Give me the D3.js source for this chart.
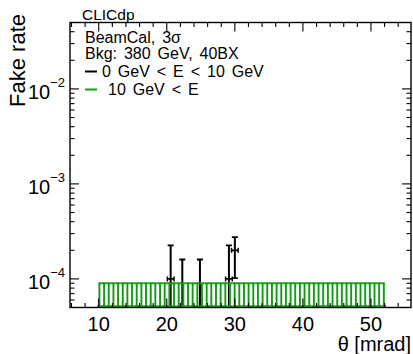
<!DOCTYPE html>
<html>
<head>
<meta charset="utf-8">
<script src="https://cdn.jsdelivr.net/npm/d3@7"></script>
<style>
  html, body { margin: 0; padding: 0; background: #fff; }
  svg { display: block; }
  text { font-family: "Liberation Sans", Arial, Helvetica, sans-serif; fill: #000; }
  .legend text { word-spacing: 2.5px; }
</style>
</head>
<body>
<svg id="chart" width="413" height="354"></svg>
<script>
// Polar-angle bins of the "10 GeV < E" sample (bin centres, mrad)
const greenTheta = [
  10.10, 10.79, 11.47, 12.16, 12.84, 13.53, 14.21, 14.90, 15.58, 16.27,
  16.95, 17.64, 18.32, 19.01, 19.69, 20.38, 21.06, 21.75, 22.43, 23.12,
  23.80, 24.49, 25.17, 25.86, 26.54, 27.23, 27.91, 28.60, 29.28, 29.97,
  30.65, 31.34, 32.02, 32.71, 33.39, 34.08, 34.76, 35.45, 36.13, 36.82,
  37.50, 38.19, 38.87, 39.56, 40.24, 40.93, 41.61, 42.30, 42.98, 43.67,
  44.35, 45.04, 45.72, 46.41, 47.09, 47.78, 48.46, 49.15, 49.83, 50.52,
  51.20, 51.89
];
// Fake rate (no fakes in any bin) and its upper uncertainty
const greenRate = [
  0, 0, 0, 0, 0, 0, 0, 0, 0, 0, 0, 0, 0, 0, 0, 0, 0, 0, 0, 0, 0,
  0, 0, 0, 0, 0, 0, 0, 0, 0, 0, 0, 0, 0, 0, 0, 0, 0, 0, 0, 0,
  0, 0, 0, 0, 0, 0, 0, 0, 0, 0, 0, 0, 0, 0, 0, 0, 0, 0, 0, 0, 0
];
const greenHigh = [
  9.0e-5, 9.0e-5, 9.0e-5, 9.0e-5, 9.0e-5, 9.0e-5, 9.0e-5, 9.0e-5, 9.0e-5, 9.0e-5,
  9.0e-5, 9.0e-5, 9.0e-5, 9.0e-5, 9.0e-5, 9.0e-5, 9.0e-5, 9.0e-5, 9.0e-5, 9.0e-5,
  9.0e-5, 9.0e-5, 9.0e-5, 9.0e-5, 9.0e-5, 9.0e-5, 9.0e-5, 9.0e-5, 9.0e-5, 9.0e-5,
  9.0e-5, 9.0e-5, 9.0e-5, 9.0e-5, 9.0e-5, 9.0e-5, 9.0e-5, 9.0e-5, 9.0e-5, 9.0e-5,
  9.0e-5, 9.0e-5, 9.0e-5, 9.0e-5, 9.0e-5, 9.0e-5, 9.0e-5, 9.0e-5, 9.0e-5, 9.0e-5,
  9.0e-5, 9.0e-5, 9.0e-5, 9.0e-5, 9.0e-5, 9.0e-5, 9.0e-5, 9.0e-5, 9.0e-5, 9.0e-5,
  9.0e-5, 9.0e-5
];
const greenHalfWidth = 0.34;

// "0 GeV < E < 10 GeV" sample: bins with a visible rate or limit
const blackTheta = [20.57, 22.28, 24.87, 29.13, 30.00];
const blackRate  = [1.0e-4, 0, 0, 1.0e-4, 2.0e-4];
const blackLow   = [1.7e-5, 0, 0, 1.7e-5, 1.02e-4];
const blackHigh  = [2.25e-4, 1.6e-4, 1.6e-4, 2.25e-4, 2.75e-4];
const blackHalfWidth = 0.49;

// Axes
const xDomain = [5.78, 55.88];
const yDomain = [5e-5, 5e-2];
const xMajorTicks = [10, 20, 30, 40, 50];
const xMinorTicks = [6, 8, 12, 14, 16, 18, 22, 24, 26, 28, 32, 34, 36, 38, 42, 44, 46, 48, 52, 54];
const yMajorTicks = [1e-4, 1e-3, 1e-2];
const yMajorExp = ["−4", "−3", "−2"];
const yMinorTicks = [6e-5, 7e-5, 8e-5, 9e-5, 2e-4, 3e-4, 4e-4, 5e-4, 6e-4, 7e-4, 8e-4, 9e-4,
                     2e-3, 3e-3, 4e-3, 5e-3, 6e-3, 7e-3, 8e-3, 9e-3, 2e-2, 3e-2, 4e-2];

const legendLines = ["BeamCal, 3σ", "Bkg: 380 GeV, 40BX"];
const seriesNames = ["0 GeV < E < 10 GeV", "10 GeV < E"];

const black = "#000";
const green = "#129b12";

const L = 70, R = 411, T = 22.5, B = 307.5;
const svg = d3.select("#chart");
const x = d3.scaleLinear().domain(xDomain).range([L, R]);
const y = d3.scaleLog().domain(yDomain).range([B, T]);
const yc = v => y(Math.max(v, 1e-7));

svg.append("defs").append("clipPath").attr("id", "plotclip")
  .append("rect").attr("x", L).attr("y", T).attr("width", R - L).attr("height", B - T);

const plot = svg.append("g").attr("clip-path", "url(#plotclip)");

// black error bars
const bk = plot.append("g").attr("stroke", black).attr("fill", "none");
blackTheta.forEach((t, i) => {
  const cx = x(t);
  bk.append("line").attr("x1", cx).attr("x2", cx)
    .attr("y1", yc(blackLow[i])).attr("y2", y(blackHigh[i])).attr("stroke-width", 2);
  bk.append("line").attr("x1", cx - 3).attr("x2", cx + 3)
    .attr("y1", y(blackHigh[i])).attr("y2", y(blackHigh[i])).attr("stroke-width", 1.8);
  if (blackLow[i] > 0 && y(blackLow[i]) < B) {
    bk.append("line").attr("x1", cx - 3).attr("x2", cx + 3)
      .attr("y1", y(blackLow[i])).attr("y2", y(blackLow[i])).attr("stroke-width", 1.8);
  }
  const py = yc(blackRate[i]);
  const x0 = x(t - blackHalfWidth), x1 = x(t + blackHalfWidth);
  bk.append("line").attr("x1", x0).attr("x2", x1).attr("y1", py).attr("y2", py).attr("stroke-width", 1.8);
  bk.append("line").attr("x1", x0).attr("x2", x0).attr("y1", py - 2.5).attr("y2", py + 2.5).attr("stroke-width", 1.5);
  bk.append("line").attr("x1", x1).attr("x2", x1).attr("y1", py - 2.5).attr("y2", py + 2.5).attr("stroke-width", 1.5);
});

// green error bars
const gr = plot.append("g").attr("stroke", green).attr("fill", "none");
greenTheta.forEach((t, i) => {
  const cx = x(t);
  const top = y(greenHigh[i]);
  gr.append("line").attr("x1", cx).attr("x2", cx)
    .attr("y1", yc(greenRate[i])).attr("y2", top).attr("stroke-width", 1.9);
  const cw = (x(greenHalfWidth) - x(0));
  gr.append("line").attr("x1", Math.max(cx - cw, x(greenTheta[0]) - 0.9))
    .attr("x2", Math.min(cx + cw, x(greenTheta[greenTheta.length - 1]) + 0.9))
    .attr("y1", top).attr("y2", top).attr("stroke-width", 2.1);
  gr.append("line").attr("x1", x(t - greenHalfWidth)).attr("x2", x(t + greenHalfWidth))
    .attr("y1", B - 1).attr("y2", B - 1).attr("stroke-width", 2.4);
});

// frame and inward ticks
const ax = svg.append("g").attr("stroke", black).attr("fill", "none");
ax.append("rect").attr("x", L).attr("y", T).attr("width", R - L).attr("height", B - T).attr("stroke-width", 1.4);
const tk = (xs, len) => xs.forEach(v => {
  const px = x(v);
  ax.append("line").attr("x1", px).attr("x2", px).attr("y1", B).attr("y2", B - len).attr("stroke-width", 1.1);
  ax.append("line").attr("x1", px).attr("x2", px).attr("y1", T).attr("y2", T + len).attr("stroke-width", 1.1);
});
tk(xMajorTicks, 9); tk(xMinorTicks, 4.5);
const tky = (vs, len) => vs.forEach(v => {
  const py = y(v);
  ax.append("line").attr("x1", L).attr("x2", L + len).attr("y1", py).attr("y2", py).attr("stroke-width", 1.1);
  ax.append("line").attr("x1", R).attr("x2", R - len).attr("y1", py).attr("y2", py).attr("stroke-width", 1.1);
});
tky(yMajorTicks, 9); tky(yMinorTicks, 4.5);

// tick labels
svg.append("g").selectAll("text").data(xMajorTicks).join("text")
  .attr("x", d => x(d)).attr("y", 331).attr("text-anchor", "middle")
  .attr("font-size", 20).text(d => d);
const yl = svg.append("g").selectAll("text").data(yMajorTicks).join("text")
  .attr("x", 65).attr("y", d => y(d) + 10).attr("text-anchor", "end").attr("font-size", 20);
yl.append("tspan").text("10");
yl.append("tspan").attr("font-size", 13).attr("dy", -12).text((d, i) => yMajorExp[i]);

// axis titles
svg.append("text").attr("x", 411).attr("y", 351).attr("text-anchor", "end")
  .attr("font-size", 20).text("θ [mrad]");
svg.append("text").attr("transform", "translate(25,14) rotate(-90)")
  .attr("text-anchor", "end").attr("font-size", 22).text("Fake rate");
svg.append("text").attr("x", 82).attr("y", 19.5).attr("font-size", 15.5).text("CLICdp");

// legend
const leg = svg.append("g").attr("class", "legend");
leg.selectAll("text.head").data(legendLines).join("text").attr("class", "head")
  .attr("x", 85).attr("y", (d, i) => 42.5 + i * 16.5).attr("font-size", 16).text(d => d);
const legColors = [black, green];
const legX = [102, 108];
seriesNames.forEach((name, i) => {
  const ly = 71.5 + i * 18;
  leg.append("line").attr("x1", 85).attr("x2", 97).attr("y1", ly).attr("y2", ly)
    .attr("stroke", legColors[i]).attr("stroke-width", 2);
  leg.append("text").attr("x", legX[i]).attr("y", ly + 5.5).attr("font-size", 16).text(name);
});
</script>
</body>
</html>
